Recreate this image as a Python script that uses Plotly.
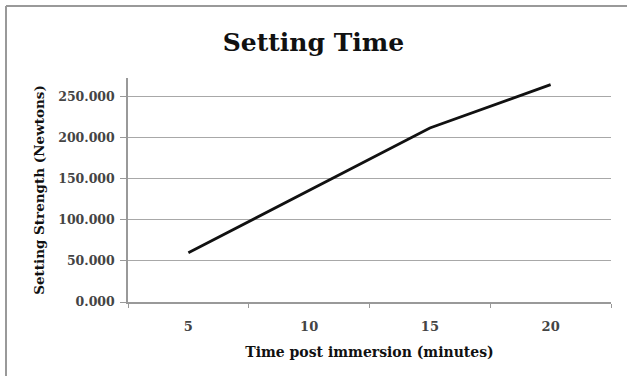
import plotly.graph_objects as go

times = ["5", "10", "15", "20"]
strength = [60.0, 136.0, 212.0, 265.0]
y_ticks = [0, 50, 100, 150, 200, 250]
y_tick_labels = ["0.000", "50.000", "100.000", "150.000", "200.000", "250.000"]

serif = "DejaVu Serif"

fig = go.Figure()
fig.add_trace(go.Scatter(
    x=times, y=strength, mode="lines",
    line=dict(color="#111111", width=2.8),
    showlegend=False,
))

fig.update_layout(
    width=627, height=376,
    margin=dict(l=128, r=16, t=78, b=74),
    paper_bgcolor="white", plot_bgcolor="white",
    title=dict(text="<b>Setting Time</b>", x=0.5, xanchor="center",
               y=1 - 42 / 376, yanchor="middle",
               font=dict(family=serif, size=25, color="#111111")),
    xaxis=dict(
        type="category", range=[-0.5, 3.5],
        tickson="boundaries", ticks="outside", ticklen=4, tickcolor="#999999",
        showline=True, linecolor="#999999", linewidth=1.5,
        showgrid=False, zeroline=False,
        tickfont=dict(family=serif, size=13, color="#444444", weight="bold"),
        ticklabelstandoff=12,
        title=dict(text="<b>Time post immersion (minutes)</b>",
                   font=dict(family=serif, size=14, color="#111111"), standoff=14),
    ),
    yaxis=dict(
        range=[0, 273], tickvals=y_ticks, ticktext=y_tick_labels,
        ticks="outside", ticklen=6, tickcolor="#999999",
        showline=True, linecolor="#999999", linewidth=1.5,
        showgrid=True, gridcolor="#a8a8a8", gridwidth=1.3, zeroline=False,
        tickfont=dict(family=serif, size=12.5, color="#444444", weight="bold"),
        ticklabelstandoff=3,
        title=dict(text="<b>Setting Strength (Newtons)</b>",
                   font=dict(family=serif, size=13.5, color="#111111"), standoff=10),
    ),
    shapes=[
        dict(type="line", xref="paper", yref="paper", x0=-122 / 483, x1=-122 / 483 + 10,
             y0=1 + 72 / 224, y1=1 + 72 / 224, line=dict(color="#999999", width=2)),
        dict(type="line", xref="paper", yref="paper", x0=-122 / 483, x1=-122 / 483,
             y0=-10, y1=1 + 72 / 224, line=dict(color="#999999", width=2)),
    ],
)

fig.write_html("out.html")
